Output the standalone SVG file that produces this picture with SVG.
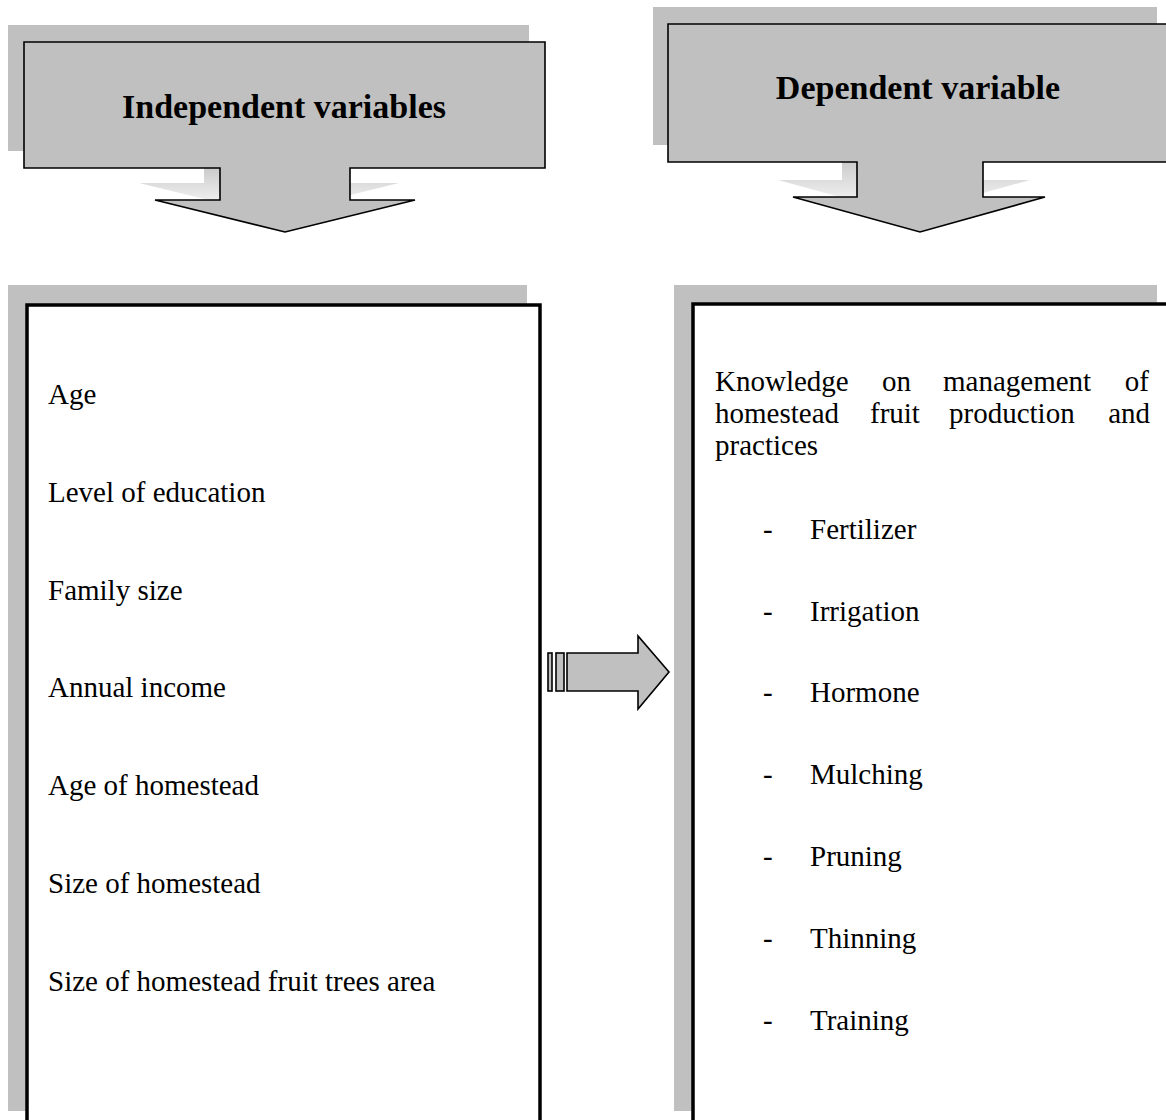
<svg xmlns="http://www.w3.org/2000/svg" width="1166" height="1120" viewBox="0 0 1166 1120">
<style>
.sh{fill:#c0c0c0;stroke:none}
.co{fill:#c0c0c0;stroke:#000;stroke-width:1.6;stroke-linejoin:miter}
.box{fill:#fff;stroke:#000;stroke-width:3.5}
.hd{font-family:"Liberation Serif","Times New Roman",serif;font-weight:bold;font-size:34px;fill:#000}
.tx{font-family:"Liberation Serif","Times New Roman",serif;font-size:29px;fill:#000}
</style>
<defs>
<linearGradient id="gl" gradientUnits="userSpaceOnUse" x1="0" y1="158" x2="0" y2="215">
<stop offset="0" stop-color="#c0c0c0"/>
<stop offset="1" stop-color="#c0c0c0" stop-opacity="0"/>
</linearGradient>
<linearGradient id="gr" gradientUnits="userSpaceOnUse" x1="0" y1="150" x2="0" y2="215">
<stop offset="0" stop-color="#c0c0c0"/>
<stop offset="1" stop-color="#c0c0c0" stop-opacity="0"/>
</linearGradient>
</defs>
<rect width="1166" height="1120" fill="#fff"/>

<g id="independent-header">
<path fill="url(#gl)" d="M8,25 H529 V151 H334 V183 H399 L269,215 L139,183 H204 V151 H8 Z"/>
<path class="co" d="M24,42 H545 V168 H350 V200 H415 L285,232 L155,200 H220 V168 H24 Z"/>
<text class="hd" x="284" y="118" text-anchor="middle">Independent variables</text>
</g>

<g id="dependent-header">
<path fill="url(#gr)" d="M653,7 H1157 V145 H968 V180 H1030 L905,215 L778,180 H842 V145 H653 Z"/>
<path class="co" d="M668,24 H1172 V162 H983 V197 H1045 L920,232 L793,197 H857 V162 H668 Z"/>
<text class="hd" x="918" y="99" text-anchor="middle">Dependent variable</text>
</g>

<g id="independent-box">
<rect class="sh" x="8" y="285" width="519" height="826"/>
<rect class="box" x="27" y="305" width="513" height="830"/>
<text class="tx" x="48" y="404">Age</text>
<text class="tx" x="48" y="502">Level of education</text>
<text class="tx" x="48" y="600">Family size</text>
<text class="tx" x="48" y="697">Annual income</text>
<text class="tx" x="48" y="795">Age of homestead</text>
<text class="tx" x="48" y="893">Size of homestead</text>
<text class="tx" x="48" y="991">Size of homestead fruit trees area</text>
</g>

<g id="dependent-box">
<rect class="sh" x="674" y="285" width="483" height="826"/>
<rect class="box" x="693" y="304" width="490" height="830"/>
<text class="tx" x="715" y="391">Knowledge</text>
<text class="tx" x="882" y="391">on</text>
<text class="tx" x="943" y="391">management</text>
<text class="tx" x="1149" y="391" text-anchor="end">of</text>
<text class="tx" x="715" y="423">homestead</text>
<text class="tx" x="870" y="423">fruit</text>
<text class="tx" x="949" y="423">production</text>
<text class="tx" x="1150" y="423" text-anchor="end">and</text>
<text class="tx" x="715" y="455">practices</text>
<text class="tx" x="763" y="539">-</text><text class="tx" x="810" y="539">Fertilizer</text>
<text class="tx" x="763" y="621">-</text><text class="tx" x="810" y="621">Irrigation</text>
<text class="tx" x="763" y="702">-</text><text class="tx" x="810" y="702">Hormone</text>
<text class="tx" x="763" y="784">-</text><text class="tx" x="810" y="784">Mulching</text>
<text class="tx" x="763" y="866">-</text><text class="tx" x="810" y="866">Pruning</text>
<text class="tx" x="763" y="948">-</text><text class="tx" x="810" y="948">Thinning</text>
<text class="tx" x="763" y="1030">-</text><text class="tx" x="810" y="1030">Training</text>
</g>

<g id="connectors">
<rect class="co" x="548" y="653" width="4" height="38"/>
<rect class="co" x="556" y="653" width="8" height="38"/>
<path class="co" d="M567,653 H638 V636 L669,672 L638,709 V691 H567 Z"/>
</g>
</svg>
